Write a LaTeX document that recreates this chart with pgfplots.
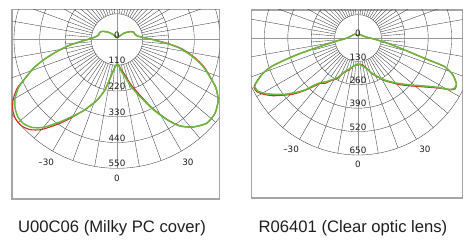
\documentclass[border=0pt]{standalone}
\usepackage{fontspec}
\setmainfont{Liberation Sans}
\newfontfamily\dejavu{DejaVu Sans}
\usepackage{pgfplots}
\pgfplotsset{compat=1.18}
\definecolor{gridc}{RGB}{60,60,60}
\definecolor{axc}{RGB}{150,150,150}
\definecolor{boxc}{RGB}{165,165,165}
\definecolor{cgreen}{RGB}{104,184,62}
\definecolor{cred}{RGB}{205,45,35}
\definecolor{tickc}{RGB}{30,30,30}
\newcommand\tickfont{\dejavu\fontsize{8.8}{10}\selectfont}
\newcommand\polargrid[1]{%
 \pgfplotsinvokeforeach{0,10,...,350}{%
   \draw[gridc,line width=0.35bp] (axis cs:{#1*cos(##1)},{#1*sin(##1)}) -- (axis cs:{5*#1*cos(##1)},{5*#1*sin(##1)});}%
 \pgfplotsinvokeforeach{5,15,...,355}{%
   \draw[gridc,line width=0.35bp] (axis cs:{#1*cos(##1)},{#1*sin(##1)}) -- (axis cs:{2*#1*cos(##1)},{2*#1*sin(##1)});}%
 \pgfplotsinvokeforeach{1,2,3,4,5}{%
   \draw[gridc,line width=0.35bp] (axis cs:0,0) circle[radius={##1*#1}];}%
 \draw[axc,line width=0.9bp] (axis cs:-3000,0) -- (axis cs:3000,0);
 \draw[axc,line width=0.9bp] (axis cs:0,3000) -- (axis cs:0,{-5*#1});
}
\pgfplotsset{polbox/.style={anchor=south west, axis lines=box, ticks=none,
  axis line style={boxc, line width=1.4bp}, clip=true}}
\begin{document}
\begin{tikzpicture}
\path (0,0) rectangle (476bp,243bp);
% ---------------- left chart
\begin{axis}[polbox, at={(12bp,44bp)}, x=0.23418bp, y=0.23418bp,
  xmin=-448.4, xmax=436.8, ymin=-681.1, ymax=129]
\polargrid{110}
\addplot[cred, line width=1.1bp, data cs=polar, smooth, tension=0.4, mark=none] coordinates {
(-270,8) (-255,10) (-240,17) (-230,30) (-220,48) (-210,70) (-202,80) (-194,81) (-188,90) (-184,103)
(-180,125) (-178,144) (-176,165) (-173,205) (-169,258) (-165,318) (-161,378) (-157,427) (-154,474)
(-150,512) (-146,537) (-142,550) (-138,550) (-134,535) (-130,502) (-125,442) (-121,395) (-118,362)
(-115,334) (-112,305) (-109,280) (-106,250) (-103,215) (-100,168) (-98,145) (-95,122) (-90,105)
(-87,106) (-82,130) (-78,150) (-73,200) (-68,252) (-63,326) (-58,402) (-54,455) (-49,495) (-43,524)
(-37,524) (-31,504) (-26,470) (-22,430) (-17.5,390) (-13,340) (-8,278) (-4.5,219) (-2,176) (0,155)
(4,116) (10,88) (16,80) (25,77) (30,67) (37,51) (43,38) (50,20) (60,12) (75,9) (90,8)};
\addplot[cgreen, line width=1.5bp, data cs=polar, smooth, tension=0.4, mark=none] coordinates {
(-270,8) (-255,10) (-240,17) (-230,30) (-220,48) (-210,70) (-202,80) (-194,81) (-188,90) (-184,103)
(-180,125) (-178,144) (-176,165) (-173,205) (-169,258) (-165,318) (-161,378) (-157,427) (-154,468)
(-150,503) (-146,525) (-142,537) (-138,537) (-134,522) (-130,490) (-125,432) (-121,388) (-118,360)
(-115,334) (-112,305) (-109,280) (-106,250) (-103,215) (-100,168) (-98,145) (-95,122) (-90,105)
(-87,109) (-82,139) (-78,162) (-73,214) (-68,263) (-63,332) (-58,405) (-54,457) (-49,495) (-43,524)
(-37,524) (-31,504) (-26,470) (-22,428) (-17.5,386) (-13,334) (-8,272) (-4.5,213) (-2,170) (0,150)
(4,113) (10,88) (16,80) (25,77) (30,67) (37,51) (43,38) (50,20) (60,12) (75,9) (90,8)};
\node[font=\tickfont, text=tickc, inner sep=0pt, yshift=4.5bp] at (axis cs:0,0) {0};
\node[font=\tickfont, text=tickc, inner sep=0pt, yshift=4.5bp] at (axis cs:0,-110) {110};
\node[font=\tickfont, text=tickc, inner sep=0pt, yshift=4.5bp] at (axis cs:0,-220) {220};
\node[font=\tickfont, text=tickc, inner sep=0pt, yshift=4.5bp] at (axis cs:0,-330) {330};
\node[font=\tickfont, text=tickc, inner sep=0pt, yshift=4.5bp] at (axis cs:0,-440) {440};
\node[font=\tickfont, text=tickc, inner sep=0pt, yshift=4.5bp] at (axis cs:0,-550) {550};
\node[font=\tickfont, text=tickc, inner sep=0pt] at (axis cs:0,-594) {0};
\node[font=\tickfont, text=tickc, inner sep=0pt] at (axis cs:-302.5,-523.9) {–30};
\node[font=\tickfont, text=tickc, inner sep=0pt] at (axis cs:302.5,-523.9) {30};
\end{axis}
% ---------------- right chart
\begin{axis}[polbox, at={(251.7bp,45bp)}, x=0.18bp, y=0.18bp,
  xmin=-590.6, xmax=579.4, ymin=-888.9, ymax=155.6]
\polargrid{130}
\addplot[cred, line width=1.1bp, data cs=polar, smooth, tension=0.4, mark=none] coordinates {
(-270,12) (-255,14) (-240,22) (-228,28) (-210,33) (-197,39) (-185,52) (-180,62) (-176,76) (-173,108)
(-170,152) (-166.6,250) (-164.8,348) (-163.3,428) (-161.7,510) (-159.6,566) (-157.2,606) (-155.5,632)
(-154.5,640) (-152,636) (-149.3,612) (-145.9,572) (-142.5,522) (-139.2,478) (-135.7,420) (-132.7,368)
(-129.6,326) (-126,312) (-122.4,280) (-117,252) (-111.6,204) (-106,186) (-100,160) (-95,152) (-90,150)
(-86,146) (-81,150) (-74.6,172) (-70,204) (-65.8,228) (-57.6,282) (-53,310) (-48.6,345) (-41.4,404)
(-35.8,466) (-31.7,530) (-29.25,590) (-27.5,610) (-26,608) (-24.8,602) (-21.3,566) (-18.3,507) (-17,387)
(-14.4,268) (-10.1,169) (-6,110) (-1.4,74) (5,50) (21.8,30) (40,25) (65.6,22) (80,14) (90,12)};
\addplot[cgreen, line width=1.5bp, data cs=polar, smooth, tension=0.4, mark=none] coordinates {
(-270,12) (-255,14) (-240,22) (-228,28) (-210,33) (-197,39) (-185,52) (-180,62) (-176,74) (-173,105)
(-170,150) (-166.6,247) (-164.8,345) (-163.3,425) (-161.7,507) (-159.6,563) (-157.2,603) (-155.5,628)
(-154.5,635) (-152,629) (-149.3,603) (-145.9,559) (-142.5,514) (-139.2,465) (-135.7,414) (-132.7,355)
(-129.6,320) (-126,300) (-122.4,276) (-117,245) (-111.6,201) (-106,180) (-100,162) (-95,150) (-90,144)
(-86,147) (-81,158) (-74.6,175) (-70,200) (-65.8,225) (-57.6,276) (-53,305) (-48.6,336) (-41.4,395)
(-35.8,456) (-31.7,522) (-29.25,584) (-27.5,605) (-26,606) (-24.8,602) (-21.3,566) (-18.3,507) (-17,387)
(-14.4,268) (-10.1,169) (-6,110) (-1.4,74) (5,50) (21.8,30) (40,25) (65.6,22) (80,14) (90,12)};
\node[font=\tickfont, text=tickc, inner sep=0pt, yshift=4.5bp] at (axis cs:0,0) {0};
\node[font=\tickfont, text=tickc, inner sep=0pt, yshift=4.5bp] at (axis cs:0,-130) {130};
\node[font=\tickfont, text=tickc, inner sep=0pt, yshift=4.5bp] at (axis cs:0,-260) {260};
\node[font=\tickfont, text=tickc, inner sep=0pt, yshift=4.5bp] at (axis cs:0,-390) {390};
\node[font=\tickfont, text=tickc, inner sep=0pt, yshift=4.5bp] at (axis cs:0,-520) {520};
\node[font=\tickfont, text=tickc, inner sep=0pt, yshift=4.5bp] at (axis cs:0,-650) {650};
\node[font=\tickfont, text=tickc, inner sep=0pt] at (axis cs:0,-702) {0};
\node[font=\tickfont, text=tickc, inner sep=0pt] at (axis cs:-371.6,-618.5) {–30};
\node[font=\tickfont, text=tickc, inner sep=0pt] at (axis cs:371.6,-618.5) {30};
\end{axis}
\node[font=\fontsize{16.7}{18}\selectfont, text=black!88, anchor=base] at (112bp,11bp) {U00C06 (Milky PC cover)};
\node[font=\fontsize{16.7}{18}\selectfont, text=black!88, anchor=base] at (353bp,11bp) {R06401 (Clear optic lens)};
\end{tikzpicture}
\end{document}
